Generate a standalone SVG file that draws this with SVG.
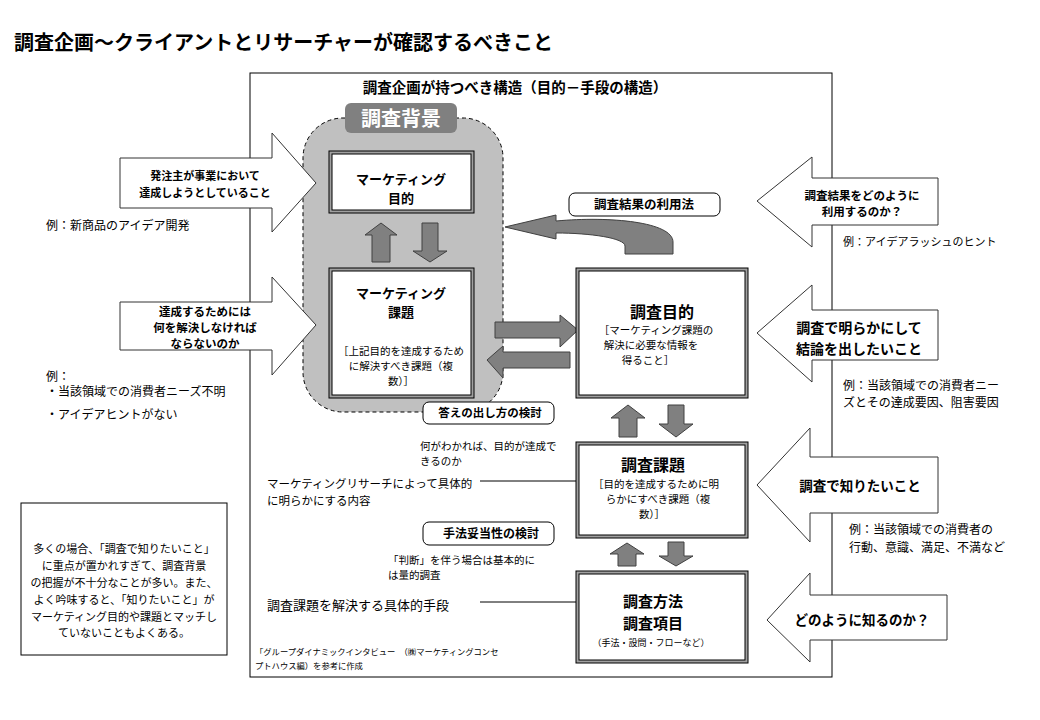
<svg xmlns="http://www.w3.org/2000/svg" width="1040" height="720" viewBox="0 0 1040 720">
<style>
text{font-family:"Noto Sans CJK JP","Noto Sans",sans-serif;fill:#000}
.b{font-weight:bold}
.m{text-anchor:middle}
.blk{fill:#fff;stroke:#333;stroke-width:1}
.ga{fill:#808080;stroke:#404040;stroke-width:1}
.lab{fill:#fff;stroke:#000;stroke-width:1}
.outer{fill:#a0a0a0;stroke:#000;stroke-width:1}
.inner{fill:#fff;stroke:#000;stroke-width:1}
.ln{stroke:#000;stroke-width:1;fill:none}
</style>
<defs>
<marker id="ah" viewBox="0 0 10 10" refX="10" refY="5" markerWidth="7" markerHeight="7" orient="auto" markerUnits="userSpaceOnUse">
<path d="M0,0 L10,5 L0,10 Z" fill="#000"/>
</marker>
</defs>
<rect width="1040" height="720" fill="#fff"/>
<text x="14" y="50" class="b" font-size="20">調査企画～クライアントとリサーチャーが確認するべきこと</text>
<g id="frame">
<rect x="250" y="73" width="582" height="604" fill="none" stroke="#000" stroke-width="1"/>
<text x="515" y="93" class="b m" font-size="14.5">調査企画が持つべき構造（目的－手段の構造）</text>
</g>
<g id="background-area">
<rect x="303" y="118" width="200" height="294" rx="40" ry="40" fill="#c0c0c0" stroke="#000" stroke-width="1" stroke-dasharray="4,3"/>
<rect x="345" y="103" width="112" height="30" rx="6" ry="6" fill="#808080"/>
<text x="401" y="126" class="b m" font-size="20" style="fill:#fff">調査背景</text>
</g>
<g id="connectors">
<polygon class="ga" points="381,223 397,235 390,235 390,262 372,262 372,235 365,235"/>
<polygon class="ga" points="422,223 438,223 438,251 447,251 430,262 413,251 422,251"/>
<polygon class="ga" points="495,322 560,322 560,315 578,330 560,347 560,338 495,338"/>
<polygon class="ga" points="570,352 503,352 503,346 487,360 503,378 503,368 570,368"/>
<path class="ga" d="M505,227 L556,215 L556,221 C610,216 673,222 673,242 L673,254 L625,254 L625,246 C625,238 590,233 556,233 L556,239 Z"/>
<polygon class="ga" points="628,405 645,418 637,418 637,437 619,437 619,418 611,418"/>
<polygon class="ga" points="668,405 684,405 684,424 693,424 676,437 659,424 668,424"/>
<polygon class="ga" points="627,543 644,554 636,554 636,566 618,566 618,554 610,554"/>
<polygon class="ga" points="668,542 684,542 684,556 693,556 676,566 659,556 668,556"/>
<line class="ln" x1="480" y1="481" x2="585" y2="481" marker-end="url(#ah)"/>
<line class="ln" x1="480" y1="602" x2="592" y2="602" marker-end="url(#ah)"/>
</g>
<g id="mk-purpose">
<rect class="outer" x="329" y="151" width="145" height="62"/>
<rect class="inner" x="332" y="154" width="139" height="56"/>
<text x="401" y="184" class="b m" font-size="13">マーケティング</text>
<text x="401" y="203" class="b m" font-size="13">目的</text>
</g>
<g id="mk-issue">
<rect class="outer" x="329" y="268" width="145" height="130"/>
<rect class="inner" x="332" y="271" width="139" height="124"/>
<text x="401" y="298" class="b m" font-size="13">マーケティング</text>
<text x="401" y="317" class="b m" font-size="13">課題</text>
<text x="401" y="355" class="m" font-size="10.5">［上記目的を達成するため</text>
<text x="401" y="370" class="m" font-size="10.5">に解決すべき課題（複</text>
<text x="401" y="385" class="m" font-size="10.5">数）］</text>
</g>
<g id="research-purpose">
<rect class="outer" x="576" y="268" width="172" height="130"/>
<rect class="inner" x="579" y="271" width="166" height="124"/>
<text x="662" y="318" class="b m" font-size="16">調査目的</text>
<text x="656" y="334" class="m" font-size="10.5">［マーケティング課題の</text>
<text x="651" y="349" class="m" font-size="10.5">解決に必要な情報を</text>
<text x="648" y="364" class="m" font-size="10.5">得ること］</text>
</g>
<g id="research-issue">
<rect class="outer" x="576" y="442" width="172" height="96"/>
<rect class="inner" x="579" y="445" width="166" height="90"/>
<text x="653" y="471" class="b m" font-size="16">調査課題</text>
<text x="656" y="488" class="m" font-size="10.5">［目的を達成するために明</text>
<text x="658" y="503" class="m" font-size="10.5">らかにすべき課題（複</text>
<text x="652" y="518" class="m" font-size="10.5">数）］</text>
</g>
<g id="research-method">
<rect class="outer" x="576" y="571" width="172" height="92"/>
<rect class="inner" x="579" y="574" width="166" height="86"/>
<text x="653" y="607" class="b m" font-size="15">調査方法</text>
<text x="653" y="629" class="b m" font-size="15">調査項目</text>
<text x="651" y="646" class="m" font-size="9">（手法・設問・フローなど）</text>
</g>
<g id="label-usage">
<rect class="lab" x="569" y="193" width="151" height="23" rx="6" ry="6"/>
<text x="644" y="209" class="b m" font-size="12.5">調査結果の利用法</text>
</g>
<g id="label-answer">
<rect class="lab" x="423" y="402" width="131" height="22" rx="6" ry="6"/>
<text x="490" y="417" class="b m" font-size="11.5">答えの出し方の検討</text>
</g>
<g id="label-method">
<rect class="lab" x="423" y="522" width="131" height="23" rx="6" ry="6"/>
<text x="491" y="538" class="b m" font-size="12">手法妥当性の検討</text>
</g>
<g id="notes-center">
<text x="420" y="450" font-size="10.5">何がわかれば、目的が達成で</text>
<text x="420" y="465" font-size="10.5">きるのか</text>
<text x="267" y="488" font-size="11.5">マーケティングリサーチによって具体的</text>
<text x="267" y="505" font-size="11.5">に明らかにする内容</text>
<text x="388" y="564" font-size="10.5">「判断」を伴う場合は基本的に</text>
<text x="388" y="579" font-size="10.5">は量的調査</text>
<text x="267" y="610" font-size="13">調査課題を解決する具体的手段</text>
<text x="255" y="655" font-size="8.3">「グループダイナミックインタビュー　（㈱マーケティングコンセ</text>
<text x="255" y="669" font-size="8.3">プトハウス編）を参考に作成</text>
</g>
<g id="left-arrow-1">
<polygon class="blk" points="120,158 272,158 272,133 316,183 272,232 272,208 120,208"/>
<text x="205" y="180" class="b m" font-size="11">発注主が事業において</text>
<text x="205" y="197" class="b m" font-size="11">達成しようとしていること</text>
</g>
<g id="left-arrow-2">
<polygon class="blk" points="120,302 272,302 272,277 316,325 272,375 272,350 120,350"/>
<text x="205" y="316" class="b m" font-size="11.5">達成するためには</text>
<text x="205" y="332" class="b m" font-size="11.5">何を解決しなければ</text>
<text x="205" y="348" class="b m" font-size="11.5">ならないのか</text>
</g>
<g id="left-examples">
<text x="46" y="230" font-size="12">例：新商品のアイデア開発</text>
<text x="46" y="381" font-size="12">例：</text>
<text x="46" y="396" font-size="12">・当該領域での消費者ニーズ不明</text>
<text x="46" y="419" font-size="12">・アイデアヒントがない</text>
</g>
<g id="note-box">
<rect x="21" y="503" width="206" height="152" fill="#fff" stroke="#000" stroke-width="1"/>
<text x="124" y="553" class="m" font-size="11">多くの場合、「調査で知りたいこと」</text>
<text x="124" y="570" class="m" font-size="11">に重点が置かれすぎて、調査背景</text>
<text x="124" y="587" class="m" font-size="11">の把握が不十分なことが多い。また、</text>
<text x="124" y="604" class="m" font-size="11">よく吟味すると、「知りたいこと」が</text>
<text x="124" y="621" class="m" font-size="11">マーケティング目的や課題とマッチし</text>
<text x="124" y="637" class="m" font-size="11">ていないこともよくある。</text>
</g>
<g id="right-arrow-1">
<polygon class="blk" points="757,201 812,157 812,178 938,178 938,225 812,225 812,247"/>
<text x="862" y="200" class="b m" font-size="11.5">調査結果をどのように</text>
<text x="862" y="216" class="b m" font-size="11.5">利用するのか？</text>
</g>
<g id="right-arrow-2">
<polygon class="blk" points="757,333 812,285 812,310 938,310 938,360 812,360 812,382"/>
<text x="859" y="333" class="b m" font-size="14">調査で明らかにして</text>
<text x="859" y="354" class="b m" font-size="14">結論を出したいこと</text>
</g>
<g id="right-arrow-3">
<polygon class="blk" points="757,485 810,428 810,457 938,457 938,513 810,513 810,542"/>
<text x="860" y="491" class="b m" font-size="13.5">調査で知りたいこと</text>
</g>
<g id="right-arrow-4">
<polygon class="blk" points="767,620 810,573 810,595 947,595 947,640 810,640 810,662"/>
<text x="862" y="625" class="b m" font-size="13.5">どのように知るのか？</text>
</g>
<g id="right-examples">
<text x="843" y="246" font-size="11">例：アイデアラッシュのヒント</text>
<text x="843" y="390" font-size="12">例：当該領域での消費者ニー</text>
<text x="843" y="407" font-size="12">ズとその達成要因、阻害要因</text>
<text x="849" y="534" font-size="12">例：当該領域での消費者の</text>
<text x="849" y="552" font-size="12">行動、意識、満足、不満など</text>
</g>
</svg>
